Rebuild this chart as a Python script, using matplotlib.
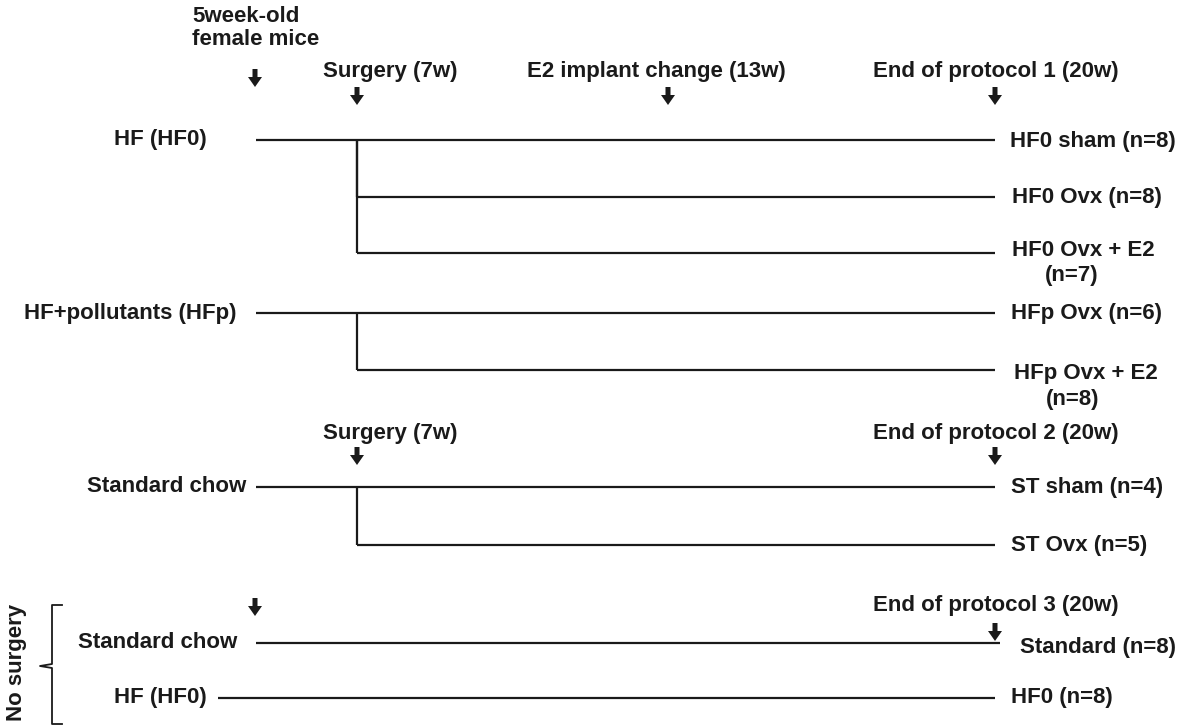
import matplotlib.pyplot as plt
from matplotlib.patches import FancyArrow

plt.rcParams['font.family'] = ['Liberation Sans', 'DejaVu Sans']

# timeline rows: left label, where label ends, where line starts, row y
row_labels = ['HF (HF0)', 'HF+pollutants (HFp)', 'Standard chow', 'Standard chow', 'HF (HF0)']
row_y = [140, 313, 487, 643, 698]
row_label_x = [207, 236, 246, 237, 207]
row_line_start = [256, 256, 256, 256, 218]
row_line_end = [995, 995, 995, 1000, 995]

# branches from surgery point
branch_from = [140, 140, 313, 487]
branch_y = [197, 253, 370, 545]
surgery_x = 357
end_x = 995

end_labels = ['HF0 sham (n=8)', 'HF0 Ovx (n=8)', 'HF0 Ovx + E2', 'HFp Ovx (n=6)',
              'HFp Ovx + E2', 'ST sham (n=4)', 'ST Ovx (n=5)', 'Standard (n=8)', 'HF0 (n=8)']
end_label_x = [1010, 1012, 1012, 1011, 1014, 1011, 1011, 1020, 1011]
end_label_y = [141, 198, 250, 313, 373, 488, 546, 648, 698]
sub_labels = ['(n=7)', '(n=8)']
sub_label_xy = [(1072, 275), (1073, 400)]

top_labels = ['5week-old\nfemale mice', 'Surgery (7w)', 'E2 implant change (13w)',
              'End of protocol 1 (20w)', 'Surgery (7w)', 'End of protocol 2 (20w)',
              'End of protocol 3 (20w)']
top_label_xy = [(192, 28), (323, 72), (527, 72), (873, 72), (323, 433), (873, 433), (873, 605)]
arrow_xy = [(255, 69), (357, 87), (668, 87), (995, 87), (357, 447), (995, 447), (255, 598), (995, 623)]

fig = plt.figure(figsize=(11.87, 7.26), dpi=100)
ax = fig.add_axes([0, 0, 1, 1])
ax.set_xlim(0, 1187)
ax.set_ylim(726, 0)
ax.axis('off')

fs = 16
lw = 1.6
col = '#1a1a1a'

for lab, lx, x0, x1, y in zip(row_labels, row_label_x, row_line_start, row_line_end, row_y):
    ax.text(lx, y, lab, ha='right', va='center', fontsize=fs, fontweight='bold', color=col)
    ax.plot([x0, x1], [y, y], color=col, lw=lw, solid_capstyle='butt')

for y0, y1 in zip(branch_from, branch_y):
    ax.plot([surgery_x, surgery_x], [y0, y1], color=col, lw=lw, solid_capstyle='butt')
    ax.plot([surgery_x, end_x], [y1, y1], color=col, lw=lw, solid_capstyle='butt')

for lab, x, y in zip(end_labels, end_label_x, end_label_y):
    ax.text(x, y, lab, ha='left', va='center', fontsize=fs, fontweight='bold', color=col)
for lab, (x, y) in zip(sub_labels, sub_label_xy):
    ax.text(x, y, lab, ha='center', va='center', fontsize=fs, fontweight='bold', color=col)

for lab, (x, y) in zip(top_labels, top_label_xy):
    ax.text(x, y, lab, ha='left', va='center', fontsize=fs, fontweight='bold', color=col,
            linespacing=1.15)

for x, y in arrow_xy:
    ax.add_patch(FancyArrow(x, y, 0, 18, width=5, head_width=14, head_length=10,
                            length_includes_head=True, color=col, lw=0))

# bracket for the no-surgery group
ax.plot([62, 52, 52, 40, 52, 52, 62], [605, 605, 664, 666, 668, 724, 724],
        color=col, lw=1.3)
ax.text(17, 662, 'No surgery', rotation=90, ha='center', va='center', fontsize=fs,
        fontweight='bold', color=col)

fig.savefig('out.png', dpi=100, facecolor='white')
